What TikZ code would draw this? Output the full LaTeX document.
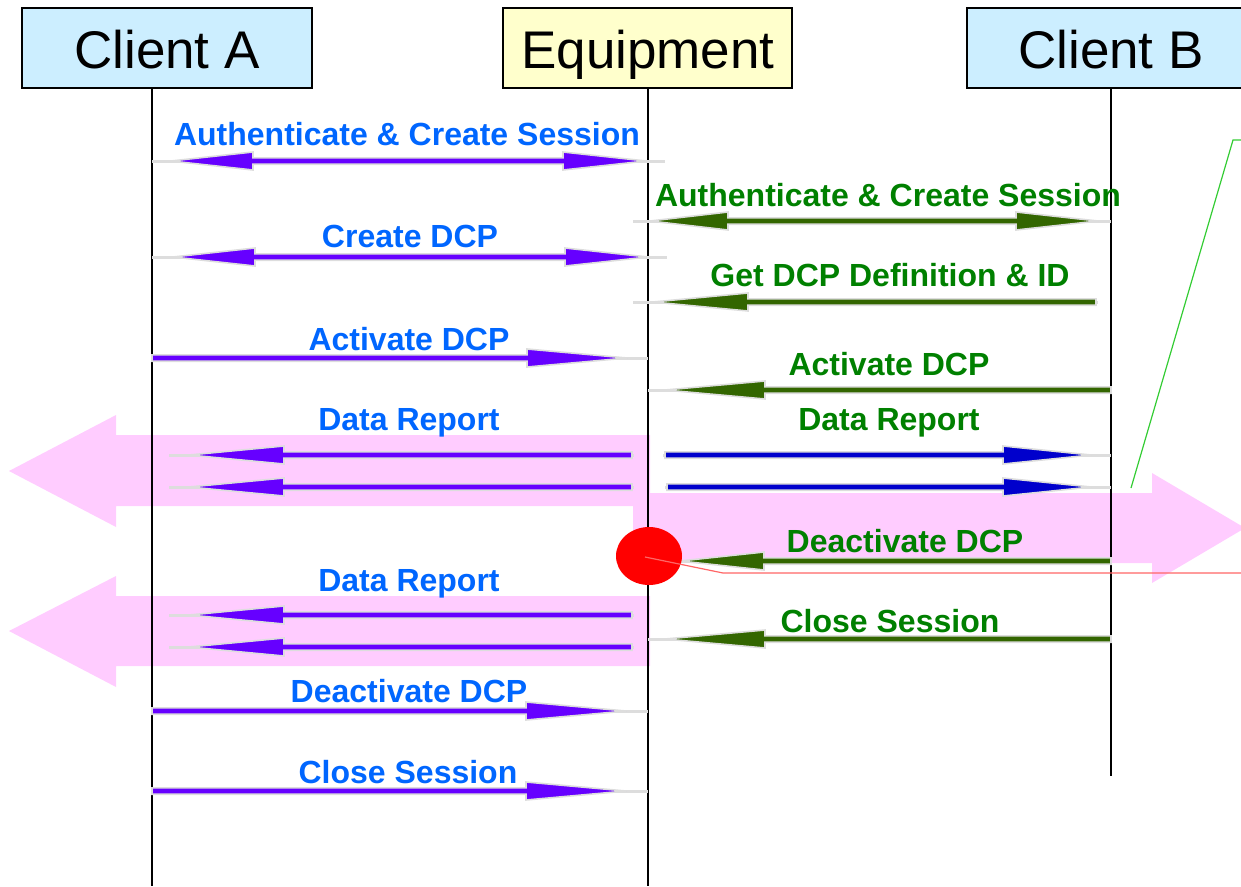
\documentclass[tikz,border=0pt]{standalone}
\usepackage{fontspec}
\setmainfont{Liberation Sans}
\usetikzlibrary{shapes.geometric}
\definecolor{cliblue}{HTML}{CCEEFF}
\definecolor{eqyellow}{HTML}{FFFFCC}
\definecolor{lblblue}{HTML}{0066FF}
\definecolor{lblgreen}{HTML}{008000}
\definecolor{arrpurple}{HTML}{6600FF}
\definecolor{arrgreen}{HTML}{336600}
\definecolor{arrblue}{HTML}{0000CC}
\definecolor{pinkfill}{HTML}{FFCCFF}
\definecolor{halo}{HTML}{DDDDDD}
\definecolor{calloutgreen}{HTML}{33CC33}
\definecolor{calloutred}{HTML}{FF6666}
% single arrow: color, y, shaft start, head base, tip, grey start, grey end
\newcommand\msgarrow[7]{%
  \draw[halo,line width=3] ({#6},{#2}) -- ({#7},{#2});
  \fill[#1,draw=halo,line width=1.6]
    ({#3},{#2-3.2}) -- ({#4},{#2-3.2}) -- ({#4},{#2-9}) -- ({#5},{#2}) --
    ({#4},{#2+9}) -- ({#4},{#2+3.2}) -- ({#3},{#2+3.2}) -- cycle;}
% double arrow: color, y, left tip, left base, right base, right tip, grey start, grey end
\newcommand\dblarrow[8]{%
  \draw[halo,line width=3] ({#7},{#2}) -- ({#8},{#2});
  \fill[#1,draw=halo,line width=1.6]
    ({#3},{#2}) -- ({#4},{#2-9}) -- ({#4},{#2-3.2}) -- ({#5},{#2-3.2}) --
    ({#5},{#2-9}) -- ({#6},{#2}) -- ({#5},{#2+9}) -- ({#5},{#2+3.2}) --
    ({#4},{#2+3.2}) -- ({#4},{#2+9}) -- cycle;}
\tikzset{
  actor/.style={draw=black,line width=1.5},
  actortext/.style={font=\fontsize{53}{60}\selectfont,anchor=base,inner sep=0},
  bluelbl/.style={text=lblblue,font=\fontsize{32}{36}\selectfont\bfseries,anchor=base,inner sep=0},
  greenlbl/.style={text=lblgreen,font=\fontsize{32}{36}\selectfont\bfseries,anchor=base,inner sep=0},
  lifeline/.style={draw=black,line width=1.2},
  pinkarrow/.style={fill=pinkfill,draw=none}
}
\begin{document}
\begin{tikzpicture}[x=1pt,y=-1pt]
\useasboundingbox (0,0) rectangle (1241,886);
% pink block arrows (background)
\fill[pinkarrow] (650,435) -- (116,435) -- (116,415) -- (9,471) -- (116,527) -- (116,506) -- (650,506) -- cycle;
\fill[pinkarrow] (633,493) -- (1152,493) -- (1152,473) -- (1245,528) -- (1152,583) -- (1152,563) -- (633,563) -- cycle;
\fill[pinkarrow] (650,596) -- (116,596) -- (116,576) -- (9,631) -- (116,687) -- (116,666) -- (650,666) -- cycle;
% actor boxes
\node[actor,fill=cliblue,minimum width=290,minimum height=80,inner sep=0] (boxA) at (167,48) {};
\node[actor,fill=eqyellow,minimum width=289,minimum height=80,inner sep=0] (boxE) at (647.5,48) {};
\node[actor,fill=cliblue,minimum width=280,minimum height=80,inner sep=0] (boxB) at (1107,48) {};
\node[actortext] (tA) at (167,68) {Client A};
\node[actortext] (tE) at (648,68) {Equipment};
\node[actortext] (tB) at (1111,68) {Client B};
% lifelines
\coordinate (endA) at (152,886);
\coordinate (endE) at (648,886);
\coordinate (endB) at (1111,776);
\draw[lifeline] (152,88) -- (endA);
\draw[lifeline] (648,88) -- (endE);
\draw[lifeline] (1111,88) -- (endB);
% messages
\dblarrow{arrpurple}{161}{171}{253}{563}{646}{152}{665}
\node[bluelbl] (l1) at (407,145) {Authenticate \& Create Session};
\dblarrow{arrgreen}{221}{650}{728}{1016}{1098}{633}{1111}
\node[greenlbl] (l2) at (888,206) {Authenticate \& Create Session};
\dblarrow{arrpurple}{257}{173}{255}{565}{648}{152}{667}
\node[bluelbl] (l3) at (410,247) {Create DCP};
\msgarrow{arrgreen}{302}{1096}{748}{653}{633}{1098}
\node[greenlbl] (l4) at (890,286) {Get DCP Definition \& ID};
\msgarrow{arrpurple}{358}{152}{527}{627}{152}{648}
\node[bluelbl] (l5) at (409,350) {Activate DCP};
\msgarrow{arrgreen}{390}{1111}{765}{665}{648}{1111}
\node[greenlbl] (l6) at (889,375) {Activate DCP};
\node[bluelbl] (l7) at (409,430) {Data Report};
\node[greenlbl] (l8) at (889,430) {Data Report};
\msgarrow{arrpurple}{455}{632}{284}{189}{169}{634}
\msgarrow{arrpurple}{487}{632}{284}{189}{169}{634}
\msgarrow{arrblue}{455}{665}{1003}{1091}{663}{1111}
\msgarrow{arrblue}{487}{667}{1003}{1091}{665}{1111}
\msgarrow{arrgreen}{561}{1111}{764}{680}{680}{1111}
\node[greenlbl] (l9) at (905,552) {Deactivate DCP};
\node[bluelbl] (l10) at (409,591) {Data Report};
\msgarrow{arrpurple}{615}{632}{284}{189}{169}{634}
\msgarrow{arrpurple}{647}{632}{284}{189}{169}{634}
\msgarrow{arrgreen}{639}{1111}{765}{665}{648}{1111}
\node[greenlbl] (l11) at (890,632) {Close Session};
\msgarrow{arrpurple}{711}{152}{526}{626}{152}{648}
\node[bluelbl] (l12) at (409,702) {Deactivate DCP};
\msgarrow{arrpurple}{791}{152}{526}{626}{152}{648}
\node[bluelbl] (l13) at (408,783) {Close Session};
% callouts
\node[ellipse,fill=red,minimum width=66,minimum height=58,inner sep=0] (stop) at (649,556) {};
\coordinate (redbend) at (723,573);
\coordinate (redend) at (1245,573);
\draw[calloutred,line width=1.2] (645,557) -- (redbend) -- (redend);
\coordinate (gbot) at (1131,488);
\coordinate (gtop) at (1233,140);
\coordinate (gend) at (1245,140);
\draw[calloutgreen,line width=1.2] (gbot) -- (gtop) -- (gend);
\end{tikzpicture}
\end{document}
